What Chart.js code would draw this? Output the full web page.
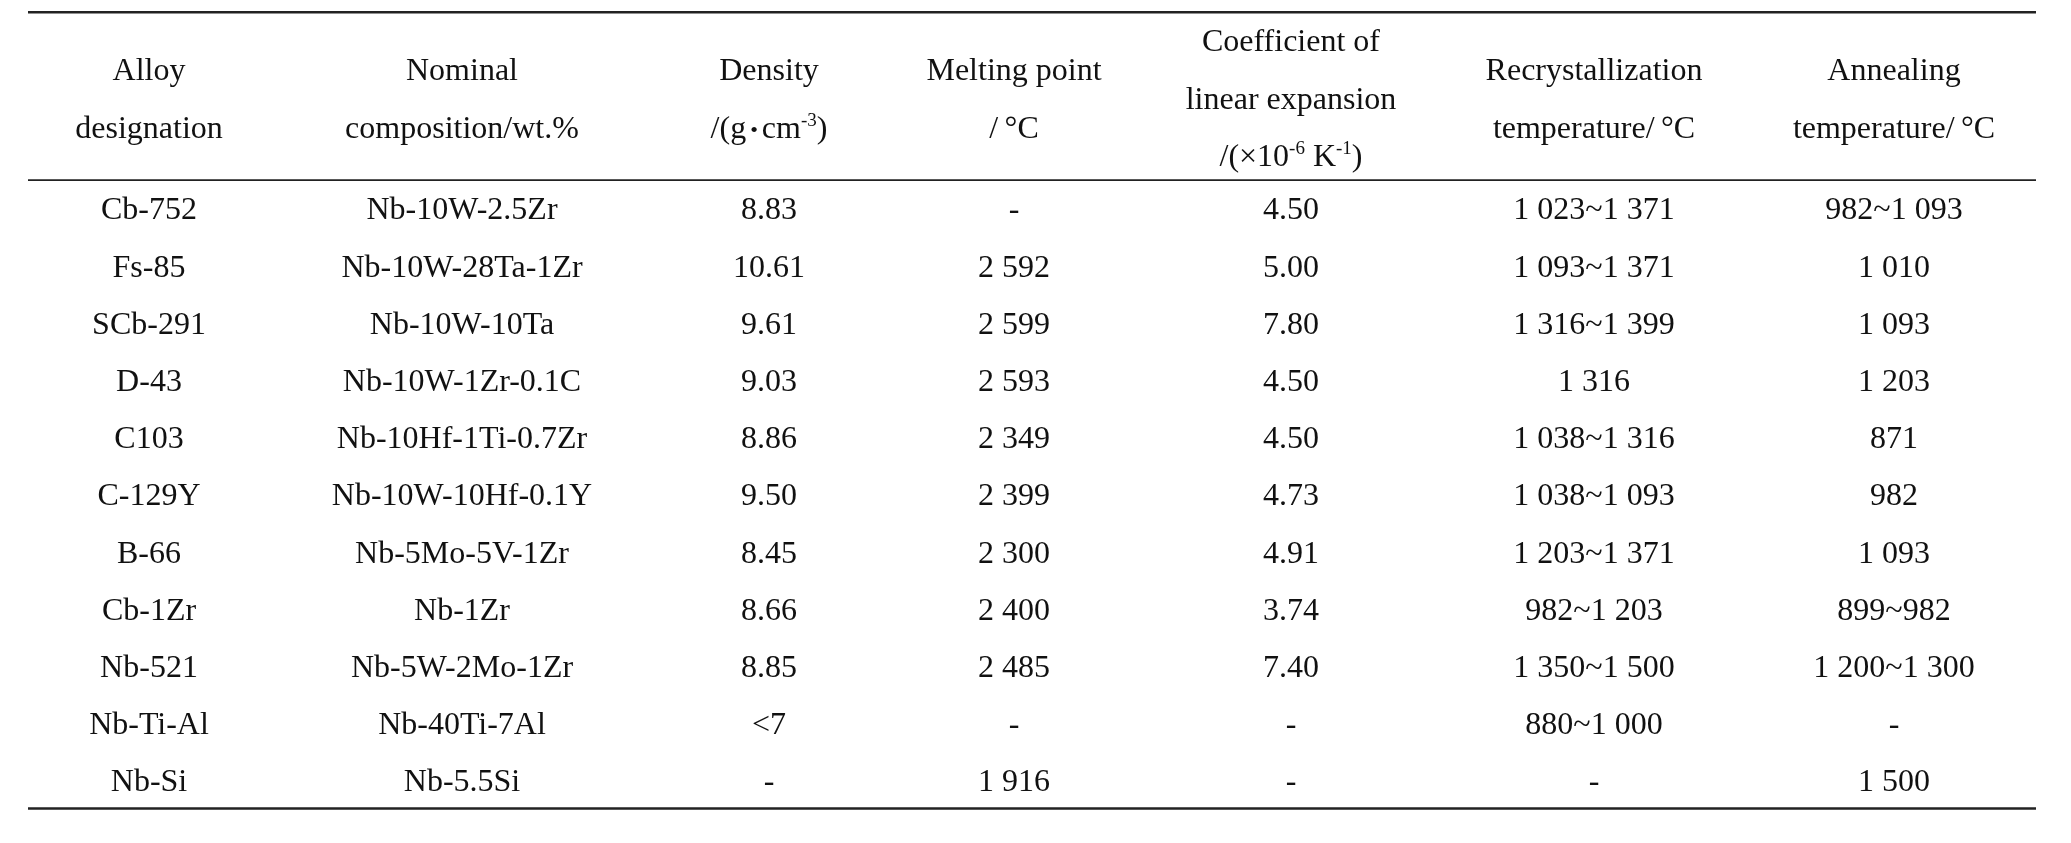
<!DOCTYPE html>
<html>
<head>
<meta charset="utf-8">
<script src="https://cdn.jsdelivr.net/npm/chart.js@4/dist/chart.umd.min.js"></script>
<style>
  html, body { margin: 0; padding: 0; background: #fff; }
  #wrap { width: 2071px; height: 843px; position: relative; }
</style>
</head>
<body>
<div id="wrap"><canvas id="chart"></canvas></div>
<script>
// Table: typical niobium alloys
// ^{..} = superscript, *{..} = small centred dot
const headers = [
  ["Alloy", "designation"],
  ["Nominal", "composition/wt.%"],
  ["Density", "/(g*{•}cm^{-3})"],
  ["Melting point", "/\u2009°C"],
  ["Coefficient of", "linear expansion", "/(×10^{-6} K^{-1})"],
  ["Recrystallization", "temperature/\u2009°C"],
  ["Annealing", "temperature/\u2009°C"]
];

const alloys = ["Cb-752", "Fs-85", "SCb-291", "D-43", "C103", "C-129Y", "B-66", "Cb-1Zr", "Nb-521", "Nb-Ti-Al", "Nb-Si"];
const compositions = ["Nb-10W-2.5Zr", "Nb-10W-28Ta-1Zr", "Nb-10W-10Ta", "Nb-10W-1Zr-0.1C", "Nb-10Hf-1Ti-0.7Zr", "Nb-10W-10Hf-0.1Y", "Nb-5Mo-5V-1Zr", "Nb-1Zr", "Nb-5W-2Mo-1Zr", "Nb-40Ti-7Al", "Nb-5.5Si"];
const density = ["8.83", "10.61", "9.61", "9.03", "8.86", "9.50", "8.45", "8.66", "8.85", "<7", "-"];
const meltingPoint = ["-", "2 592", "2 599", "2 593", "2 349", "2 399", "2 300", "2 400", "2 485", "-", "1 916"];
const expansion = ["4.50", "5.00", "7.80", "4.50", "4.50", "4.73", "4.91", "3.74", "7.40", "-", "-"];
const recrystallization = ["1 023~1 371", "1 093~1 371", "1 316~1 399", "1 316", "1 038~1 316", "1 038~1 093", "1 203~1 371", "982~1 203", "1 350~1 500", "880~1 000", "-"];
const annealing = ["982~1 093", "1 010", "1 093", "1 203", "871", "982", "1 093", "899~982", "1 200~1 300", "-", "1 500"];

const columns = [alloys, compositions, density, meltingPoint, expansion, recrystallization, annealing];

// layout (page units on the x scale, row units on the y scale)
const colCenters = [149, 462, 769, 1014, 1291, 1594, 1894];
const FONT = "'Liberation Serif', 'Times New Roman', serif";
const FS = 32;

const datasets = columns.map((col, c) => ({
  label: headers[c].join(" "),
  cellText: col,
  data: col.map((_, r) => ({ x: colCenters[c], y: r })),
  pointRadius: 0,
  pointHoverRadius: 0,
  showLine: false
}));

// size / raise / side padding for each kind of segment
const SEG = {
  n: { size: FS, rise: 0, pad: 0 },
  "^": { size: 19, rise: 12, pad: 0 },
  "*": { size: 22, rise: 1, pad: 4 }
};

// draws text with markup, centred on x, cap-centred on y
function drawRich(ctx, str, x, y) {
  const re = /([\^*])\{([^}]*)\}/g;
  const segs = [];
  let last = 0, m;
  while ((m = re.exec(str))) {
    if (m.index > last) segs.push({ t: str.slice(last, m.index), k: "n" });
    segs.push({ t: m[2], k: m[1] });
    last = re.lastIndex;
  }
  if (last < str.length) segs.push({ t: str.slice(last), k: "n" });

  let w = 0;
  segs.forEach(s => {
    const st = SEG[s.k];
    ctx.font = st.size + "px " + FONT;
    s.w = ctx.measureText(s.t).width + st.pad * 2;
    w += s.w;
  });
  let cx = x - w / 2;
  const base = y + FS * 0.331;
  segs.forEach(s => {
    const st = SEG[s.k];
    ctx.font = st.size + "px " + FONT;
    ctx.fillText(s.t, cx + st.pad, base - st.rise);
    cx += s.w;
  });
}

const tablePlugin = {
  id: "tablePlugin",
  afterDatasetsDraw(chart) {
    const { ctx, scales: { x, y } } = chart;
    ctx.save();
    ctx.fillStyle = "#111";
    ctx.textAlign = "left";
    ctx.textBaseline = "alphabetic";

    // body cells, positioned by the library
    chart.data.datasets.forEach((ds, i) => {
      chart.getDatasetMeta(i).data.forEach((pt, r) => {
        drawRich(ctx, ds.cellText[r], pt.x, pt.y);
      });
    });

    // header
    const hc = -1.935, step = 1.01;
    headers.forEach((lines, c) => {
      lines.forEach((ln, k) => {
        const v = hc + (k - (lines.length - 1) / 2) * step;
        drawRich(ctx, ln, x.getPixelForValue(colCenters[c]), y.getPixelForValue(v));
      });
    });

    // three-line table rules
    const x0 = x.getPixelForValue(28), x1 = x.getPixelForValue(2036);
    [[-3.435, 2.4], [-0.5, 1.6], [10.485, 2.4]].forEach(([v, lw]) => {
      const py = y.getPixelForValue(v);
      ctx.strokeStyle = "#222";
      ctx.lineWidth = lw;
      ctx.beginPath();
      ctx.moveTo(x0, py);
      ctx.lineTo(x1, py);
      ctx.stroke();
    });
    ctx.restore();
  }
};

new Chart(document.getElementById("chart"), {
  type: "scatter",
  data: { datasets },
  options: {
    responsive: true,
    maintainAspectRatio: false,
    animation: false,
    layout: { padding: 0 },
    plugins: { legend: { display: false }, tooltip: { enabled: false } },
    scales: {
      x: { type: "linear", min: 0, max: 2071, display: false },
      y: { type: "linear", reverse: true, min: -3.649, max: 11.089, display: false }
    }
  },
  plugins: [tablePlugin]
});
</script>
</body>
</html>
